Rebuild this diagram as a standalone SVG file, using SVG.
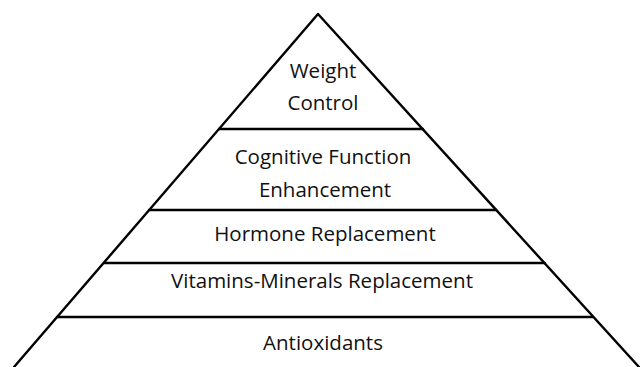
<svg xmlns="http://www.w3.org/2000/svg" width="640" height="367" viewBox="0 0 640 367">
<style>
.ln{stroke:#000;stroke-width:2.4;fill:none;stroke-linecap:round;stroke-linejoin:round}
.t{font-family:"Open Sans","Noto Sans",sans-serif;font-size:20.5px;fill:#111;text-anchor:middle}
</style>
<rect width="640" height="367" fill="#fff"/>
<g id="connectors">
<polyline class="ln" points="14,367 318,14 639,367"/>
<line class="ln" x1="219" y1="129" x2="423" y2="129"/>
<line class="ln" x1="149" y1="210" x2="496" y2="210"/>
<line class="ln" x1="104" y1="263" x2="545" y2="263"/>
<line class="ln" x1="57" y1="317" x2="593" y2="317"/>
</g>
<g id="node-weight"><text class="t" x="323" y="78">Weight</text><text class="t" x="323" y="110">Control</text></g>
<g id="node-cognitive"><text class="t" x="323" y="164">Cognitive Function</text><text class="t" x="325" y="197">Enhancement</text></g>
<g id="node-hormone"><text class="t" x="325" y="241">Hormone Replacement</text></g>
<g id="node-vitamins"><text class="t" x="322" y="288">Vitamins-Minerals Replacement</text></g>
<g id="node-antioxidants"><text class="t" x="323" y="350">Antioxidants</text></g>
</svg>
